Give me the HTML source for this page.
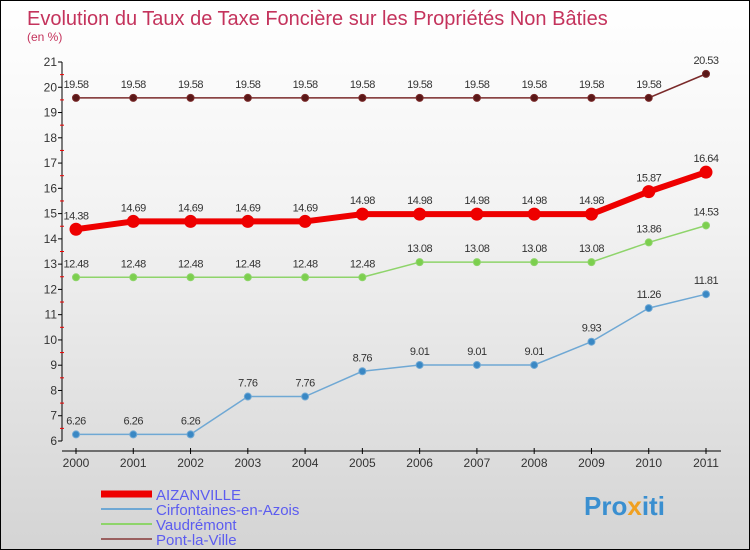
<!DOCTYPE html>
<html><head><meta charset="utf-8"><style>
html,body{margin:0;padding:0}
body{width:750px;height:550px;overflow:hidden;font-family:"Liberation Sans",sans-serif}
#wrap{position:relative;width:748px;height:548px;border:1px solid #000;background:linear-gradient(#fff 0%,#f2f2f2 40%,#d4d4d4 100%)}
</style></head><body>
<div id="wrap">
<svg id="chart" width="748" height="548" style="position:absolute;left:0;top:0">
<text x="26" y="24" font-size="20" fill="#c4335c">Evolution du Taux de Taxe Foncière sur les Propriétés Non Bâties</text>
<text x="26" y="40" font-size="12" fill="#c4335c">(en %)</text>
<g id="axes"></g><g id="series"></g>
<g id="legend" font-size="15" fill="#5c5cf0"></g>
<text x="583" y="514" font-size="26" font-weight="bold" fill="#3a8fd0">Pro<tspan fill="#f0a020">x</tspan>iti</text>
</svg>
</div>
<script>
const years=[2000,2001,2002,2003,2004,2005,2006,2007,2008,2009,2010,2011];
const seriesNames=["Pont-la-Ville","Vaudrémont","Cirfontaines-en-Azois","AIZANVILLE"];
const pontVals=[19.58,19.58,19.58,19.58,19.58,19.58,19.58,19.58,19.58,19.58,19.58,20.53];
const vaudVals=[12.48,12.48,12.48,12.48,12.48,12.48,13.08,13.08,13.08,13.08,13.86,14.53];
const cirfVals=[6.26,6.26,6.26,7.76,7.76,8.76,9.01,9.01,9.01,9.93,11.26,11.81];
const aizVals=[14.38,14.69,14.69,14.69,14.69,14.98,14.98,14.98,14.98,14.98,15.87,16.64];
const yTicks=[6,7,8,9,10,11,12,13,14,15,16,17,18,19,20,21];
const NS="http://www.w3.org/2000/svg";
const X=i=>75+i*(630/11);
const Y=v=>440-(v-6)*(379/15);
function mk(t,a,p){const e=document.createElementNS(NS,t);for(const k in a)e.setAttribute(k,a[k]);p.appendChild(e);return e;}
const ax=document.getElementById('axes');
let l=mk('line',{x1:61,y1:Y(21),x2:61,y2:Y(6),stroke:'#000'},ax);


l=mk('line',{x1:61,y1:450,x2:720,y2:450,stroke:'#000'},ax);


yTicks.forEach(v=>{
 const t=mk('line',{x1:57,x2:61,y1:Y(v),y2:Y(v),stroke:'#000'},ax);
 
 
 if(v<21){const m=mk('line',{x1:59,x2:63,y1:Y(v+0.5),y2:Y(v+0.5),stroke:'#e00'},ax);
 
 }
 const tx=mk('text',{x:56,y:Y(v)+4,'text-anchor':'end','font-size':12,fill:'#333'},ax);
 tx.textContent=v;
 
 
});
years.forEach((yr,i)=>{
 const t=mk('line',{x1:X(i),x2:X(i),y1:447,y2:453,stroke:'#000'},ax);
 
 
 const tx=mk('text',{x:X(i),y:466,'text-anchor':'middle','font-size':12,fill:'#333'},ax);
 tx.textContent=yr;
 
 
});
const sg=document.getElementById('series');
function draw(vals,name,col,lw,r,fill){
 const g=mk('g',{},sg);
 
 
 const pl=mk('polyline',{points:vals.map((v,i)=>X(i)+','+Y(v)).join(' '),fill:'none',stroke:col,'stroke-width':lw},g);
 
 
 vals.forEach((v,i)=>{
  const c=mk('circle',{cx:X(i),cy:Y(v),r:r,fill:fill,stroke:col,'stroke-width':1},g);
  
  
  const t=mk('text',{x:X(i),y:Y(v)-10,'text-anchor':'middle','font-size':11,fill:'#333','letter-spacing':'-0.5'},g);
  t.textContent=v.toFixed(2).replace(/0$/,'').replace(/\.$/,'');
  
  
 });
}
draw(pontVals,'pont-la-ville','#7a2a2a',1.5,3.5,'#5a1818');
draw(vaudVals,'vaudremont','#8ed46a',1.5,3.5,'#7ccf4e');
draw(cirfVals,'cirfontaines','#6fa8d4',1.5,3.5,'#3a88c4');
draw(aizVals,'aizanville','#ee0000',6,6,'#ee0000');
const lg=document.getElementById('legend');
const legCols=['#ee0000','#6fa8d4','#8ed46a','#9a6060'];
const legNames=["AIZANVILLE","Cirfontaines-en-Azois","Vaudrémont","Pont-la-Ville"];
const legW=[7,2,2,2];
legNames.forEach((n,i)=>{
 const y=493+i*15;
 const ln=mk('line',{x1:100,x2:151,y1:y,y2:y,stroke:legCols[i],'stroke-width':legW[i]},lg);
 
 
 const t=mk('text',{x:155,y:y+6},lg);
 t.textContent=n;
 
 
});
</script>
</body></html>
